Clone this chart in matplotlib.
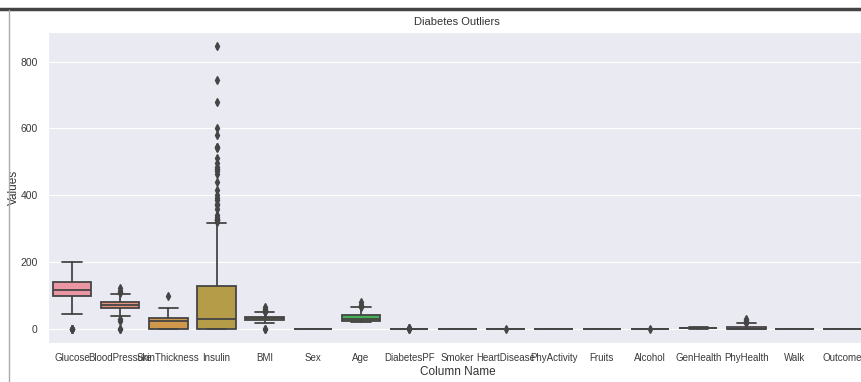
import matplotlib
matplotlib.use("Agg")
import matplotlib.pyplot as plt
import matplotlib.lines as mlines
import colorsys
import seaborn as sns

columns = ["Glucose", "BloodPressure", "SkinThickness", "Insulin", "BMI", "Sex", "Age",
           "DiabetesPF", "Smoker", "HeartDisease", "PhyActivity", "Fruits", "Alcohol",
           "GenHealth", "PhyHealth", "Walk", "Outcome"]

# box summary: q1, median, q3, lower whisker, upper whisker
q1 = [99, 62, 0, 0, 27.3, 0, 24, 0.24, 0, 0, 0, 0, 0, 2, 0, 0, 0]
med = [117, 72, 23, 30.5, 32, 0, 29, 0.37, 0, 0, 1, 1, 0, 3, 0, 0, 0]
q3 = [140.25, 80, 32, 127.25, 36.6, 1, 41, 0.63, 1, 0, 1, 1, 0, 4, 7, 1, 1]
whislo = [44, 38, 0, 0, 18.2, 0, 21, 0.078, 0, 0, 0, 0, 0, 1, 0, 0, 0]
whishi = [199, 106, 63, 318, 50, 1, 66, 1.19, 1, 0, 1, 1, 0, 5, 17, 1, 1]
fliers = [
    [0, 0, 0, 0, 0],
    [0, 0, 24, 30, 108, 110, 114, 122],
    [99],
    [321, 325, 325, 326, 328, 330, 335, 342, 360, 370, 375, 387, 392, 402, 415, 440,
     465, 474, 478, 480, 485, 495, 510, 540, 543, 545, 579, 600, 680, 744, 846],
    [0, 0, 52.3, 52.9, 53.2, 55, 57.3, 59.4, 67.1],
    [],
    [67, 68, 69, 70, 72, 81],
    [1.22, 1.4, 1.7, 2.1, 2.42],
    [],
    [1],
    [],
    [],
    [1],
    [],
    [18, 20, 21, 25, 28, 30],
    [],
    [],
]

sns.set_style("darkgrid")
plt.rcParams["font.family"] = ["Liberation Sans", "DejaVu Sans"]

colors = [sns.desaturate(c, .75) for c in sns.husl_palette(len(columns), l=.7)]
lum = min(colorsys.rgb_to_hls(*c)[1] for c in colors) * .6
gray = (lum, lum, lum)

stats = []
for i, name in enumerate(columns):
    stats.append(dict(label=name, q1=q1[i], med=med[i], q3=q3[i],
                      whislo=whislo[i], whishi=whishi[i], fliers=fliers[i]))

fig = plt.figure(figsize=(8.61, 3.82), dpi=100)
ax = fig.add_axes([0.0557, 0.102, 0.951, 0.814])

bp = ax.bxp(stats, positions=range(len(columns)), widths=0.8, patch_artist=True,
            boxprops=dict(edgecolor=gray, linewidth=1.3),
            medianprops=dict(color=gray, linewidth=1.3),
            whiskerprops=dict(color=gray, linewidth=1.3),
            capprops=dict(color=gray, linewidth=1.3),
            flierprops=dict(marker="d", markersize=4, markerfacecolor=gray,
                            markeredgecolor=gray, linestyle="none"))
for patch, c in zip(bp["boxes"], colors):
    patch.set_facecolor(c)

ax.set_xlim(-0.5, len(columns) - 0.5)
ax.set_ylim(-42, 888)
ax.set_yticks([0, 200, 400, 600, 800])
ax.xaxis.grid(False)
ax.tick_params(labelsize=7, colors="#3a3a3a")
ax.tick_params(axis="y", pad=4, labelsize=7.5)
ax.tick_params(axis="x", pad=4)
ax.set_title("Diabetes Outliers", fontsize=8, color="#333333", pad=5)
ax.set_xlabel("Column Name", fontsize=8.5, color="#333333", labelpad=2)
ax.set_ylabel("Values", fontsize=8.5, color="#333333")
ax.yaxis.set_label_coords(-0.034, 0.5)

# notebook frame edges visible in the screenshot
fig.add_artist(mlines.Line2D([0, 1], [0.977, 0.977], color="#444444", linewidth=2.5,
                             transform=fig.transFigure))
fig.add_artist(mlines.Line2D([0.0105, 0.0105], [0, 0.975], color="#aaaaaa", linewidth=1,
                             transform=fig.transFigure))

fig.savefig("out.png", dpi=100)
